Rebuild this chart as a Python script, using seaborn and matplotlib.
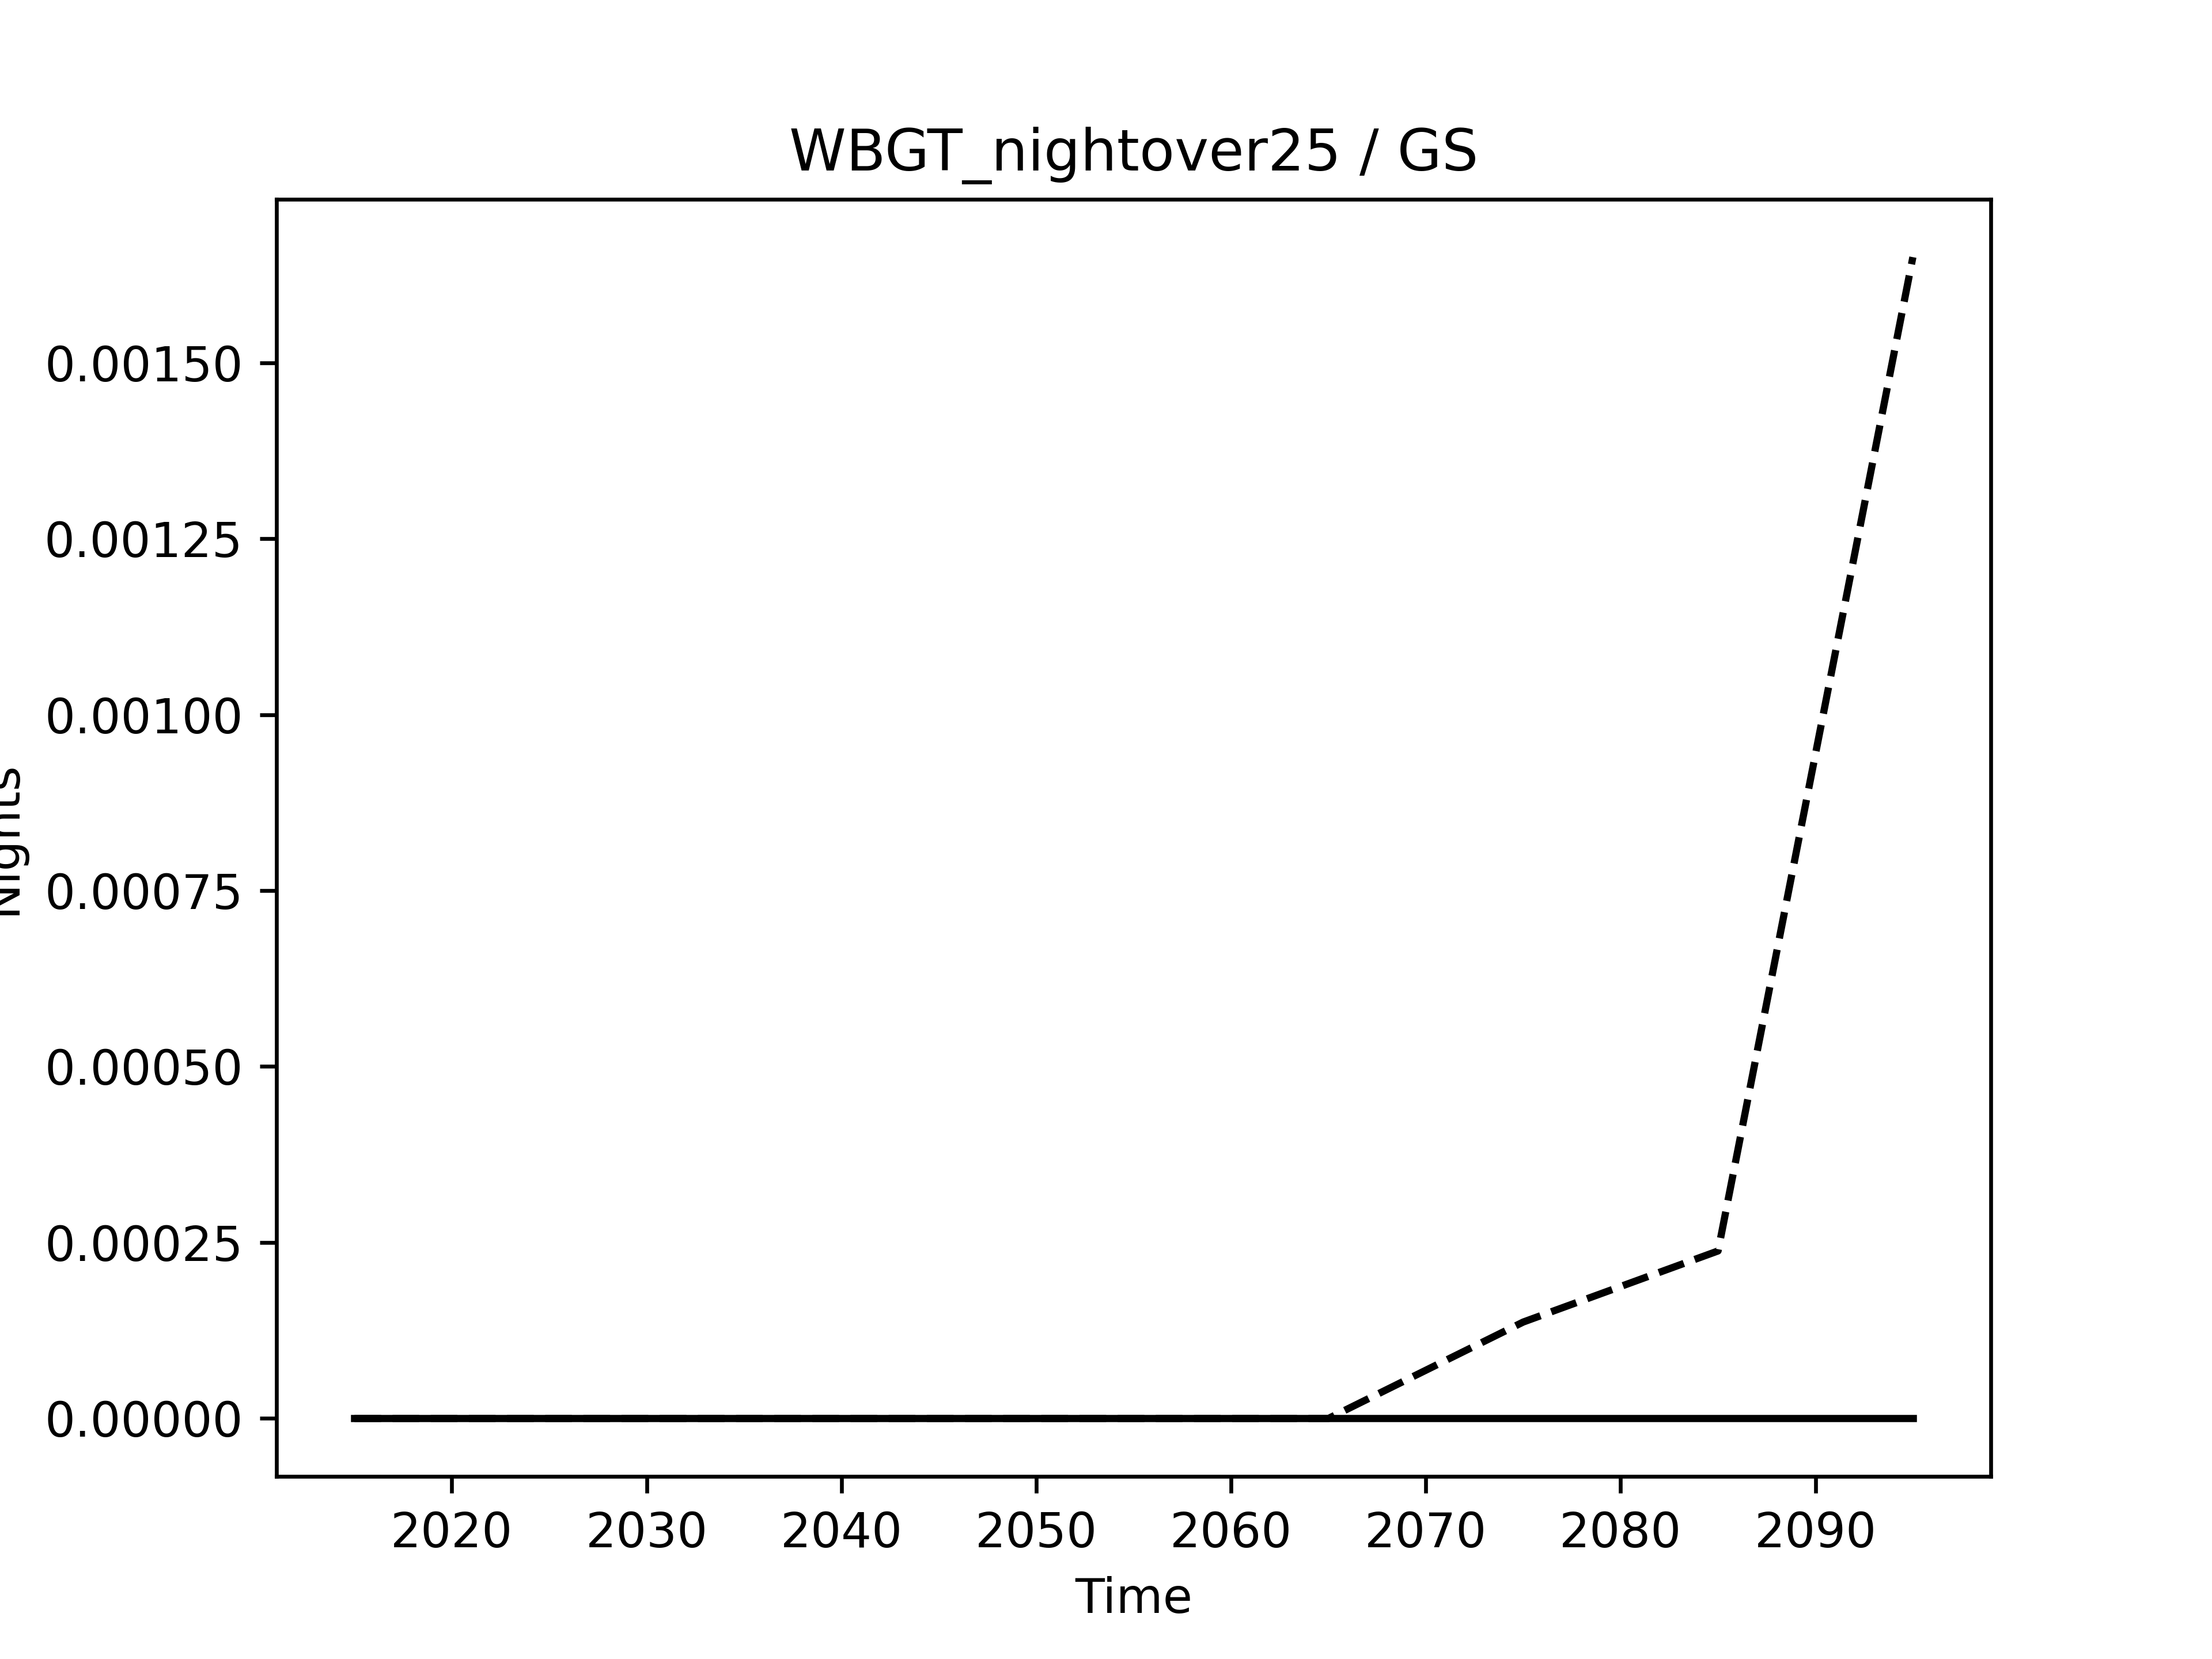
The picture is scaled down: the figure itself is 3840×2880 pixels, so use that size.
import pandas as pd
import matplotlib
matplotlib.use("Agg")
import matplotlib.pyplot as plt
import seaborn as sns

# decade midpoints
years = [2015, 2025, 2035, 2045, 2055, 2065, 2075, 2085, 2095]

# nights with WBGT over 25
baseline = [0, 0, 0, 0, 0, 0, 0, 0, 0]
scenario = [0, 0, 0, 0, 0, 0, 0.000137, 0.000238, 0.00165]

df = pd.DataFrame({"Time": years, "baseline": baseline, "scenario": scenario})

fig, ax = plt.subplots(figsize=(6.4, 4.8), dpi=600)

sns.lineplot(data=df, x="Time", y="scenario", color="black", linestyle="--", linewidth=1.5, ax=ax)
sns.lineplot(data=df, x="Time", y="baseline", color="black", linewidth=1.5, ax=ax)

ax.set_title("WBGT_nightover25 / GS")
ax.set_xlabel("Time")
ax.set_ylabel("Nights")

fig.savefig("out.png", dpi=600)
